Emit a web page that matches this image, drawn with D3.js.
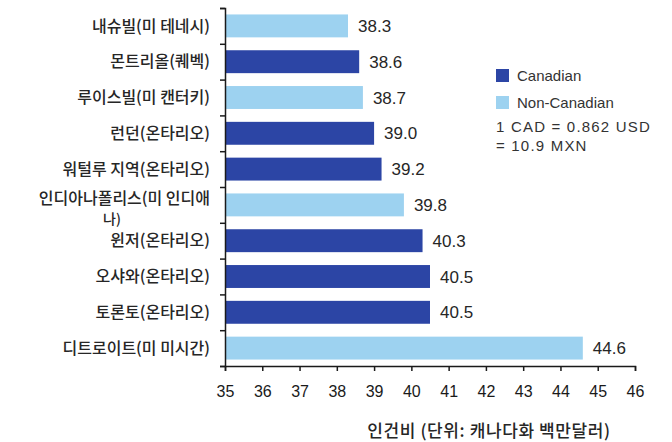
<!DOCTYPE html>
<html>
<head>
<meta charset="utf-8">
<script src="https://cdn.jsdelivr.net/npm/d3@7"></script>
<style>
  html, body { margin: 0; padding: 0; background: #ffffff; }
  svg { display: block; }
</style>
</head>
<body>
<script>
// ---- data ----
const categories = [
  "내슈빌(미 테네시)",
  "몬트리올(퀘벡)",
  "루이스빌(미 캔터키)",
  "런던(온타리오)",
  "워털루 지역(온타리오)",
  "인디아나폴리스(미 인디애나)",
  "윈저(온타리오)",
  "오샤와(온타리오)",
  "토론토(온타리오)",
  "디트로이트(미 미시간)"
];
const values = [38.3, 38.6, 38.7, 39.0, 39.2, 39.8, 40.3, 40.5, 40.5, 44.6];
const groups = ["Non-Canadian", "Canadian", "Non-Canadian", "Canadian", "Canadian",
                "Non-Canadian", "Canadian", "Canadian", "Canadian", "Non-Canadian"];
const xTicks = [35, 36, 37, 38, 39, 40, 41, 42, 43, 44, 45, 46];
const legendItems = ["Canadian", "Non-Canadian"];
const noteLines = ["1 CAD = 0.862 USD", "= 10.9 MXN"];
const xTitle = "인건비 (단위: 캐나다화 백만달러)";

// ---- layout ----
const W = 672, H = 442;
const margin = { top: 8, right: 37, bottom: 76, left: 225 };
const iw = W - margin.left - margin.right;
const ih = H - margin.top - margin.bottom;

const colors = { "Canadian": "#2c45a5", "Non-Canadian": "#9dd2f0" };
const korFont = "'Noto Sans CJK KR', 'Noto Sans', sans-serif";
const latFont = "'Liberation Sans', Arial, sans-serif";
const textCol = "#262626";

const svg = d3.select("body").append("svg").attr("width", W).attr("height", H);
const g = svg.append("g").attr("transform", `translate(${margin.left},${margin.top})`);

const x = d3.scaleLinear().domain([35, 46]).range([0, iw]);
const y = d3.scaleBand().domain(categories).range([0, ih]).paddingInner(0.36).paddingOuter(0.18);
const yIdx = d3.scaleLinear().domain([0, categories.length]).range([0, ih]);

// bars
g.selectAll("rect.bar").data(categories).enter().append("rect")
  .attr("class", "bar")
  .attr("x", x(35))
  .attr("y", d => y(d))
  .attr("width", (d, i) => x(values[i]) - x(35))
  .attr("height", y.bandwidth())
  .attr("fill", (d, i) => colors[groups[i]]);

// value labels
g.selectAll("text.val").data(categories).enter().append("text")
  .attr("class", "val")
  .attr("x", (d, i) => x(values[i]) + 10)
  .attr("y", d => y(d) + y.bandwidth() / 2)
  .attr("dy", "0.36em")
  .attr("font-family", latFont)
  .attr("font-size", 17)
  .attr("fill", textCol)
  .text((d, i) => values[i].toFixed(1));

// x axis
const xAxis = g.append("g").attr("transform", `translate(0,${ih})`)
  .call(d3.axisBottom(x).tickValues(xTicks).tickFormat(d3.format("d")).tickSize(5).tickSizeOuter(5).tickPadding(15));
xAxis.selectAll("path, line").attr("stroke", "#1a1a1a").attr("stroke-width", 1.5);
xAxis.selectAll("text").attr("font-family", latFont).attr("font-size", 16).attr("fill", "#1a1a1a");

// y axis (ticks at category boundaries)
const yAxis = g.append("g")
  .call(d3.axisLeft(yIdx).tickValues(d3.range(0, categories.length + 1)).tickFormat("").tickSize(5).tickSizeOuter(5));
yAxis.selectAll("path, line").attr("stroke", "#1a1a1a").attr("stroke-width", 1.5);

// category labels
const labelX = -15;
function catText(sel) {
  return sel.attr("font-family", korFont).attr("font-size", 16).attr("font-weight", 500).attr("fill", textCol);
}
categories.forEach((c, i) => {
  const cy = y(c) + y.bandwidth() / 2;
  if (c === "인디아나폴리스(미 인디애나)") {
    catText(g.append("text"))
      .attr("x", labelX).attr("y", cy - 7).attr("dy", "0.35em")
      .attr("text-anchor", "end").text("인디아나폴리스(미 인디애");
    catText(g.append("text"))
      .attr("x", labelX - 98).attr("y", cy + 14).attr("dy", "0.35em")
      .attr("font-size", 14)
      .attr("text-anchor", "middle").text("나)");
  } else {
    catText(g.append("text"))
      .attr("x", labelX).attr("y", cy).attr("dy", "0.35em").attr("text-anchor", "end").text(c);
  }
});

// x title
svg.append("text")
  .attr("x", 489).attr("y", 437)
  .attr("text-anchor", "middle")
  .attr("font-family", korFont)
  .attr("font-size", 17)
  .attr("font-weight", 500)
  .attr("letter-spacing", 0.6)
  .attr("fill", textCol)
  .text(xTitle);

// legend
const lg = svg.append("g").attr("transform", "translate(496,69)");
legendItems.forEach((k, i) => {
  lg.append("rect").attr("x", 0).attr("y", i * 27).attr("width", 13).attr("height", 13).attr("fill", colors[k]);
  lg.append("text").attr("x", 21).attr("y", i * 27 + 12)
    .attr("font-family", latFont).attr("font-size", 15).attr("fill", "#333")
    .text(k);
});
noteLines.forEach((s, i) => {
  svg.append("text").attr("x", 496).attr("y", 132 + i * 19)
    .attr("font-family", latFont).attr("font-size", 15).attr("letter-spacing", 1.2).attr("fill", "#333")
    .text(s);
});
</script>
</body>
</html>
